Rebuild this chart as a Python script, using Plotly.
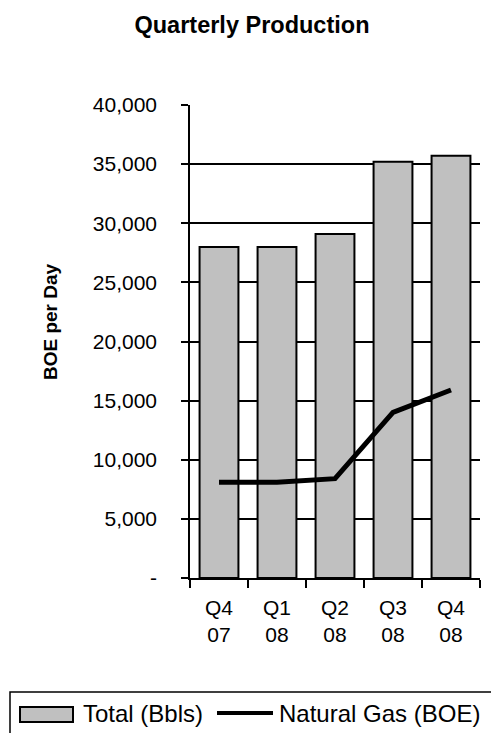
import plotly.graph_objects as go

# Quarterly production data (barrels of oil equivalent per day)
quarters = ["Q4 07", "Q1 08", "Q2 08", "Q3 08", "Q4 08"]
quarter_labels = ["Q4<br>07", "Q1<br>08", "Q2<br>08", "Q3<br>08", "Q4<br>08"]
total_bbls = [28000, 28000, 29100, 35200, 35700]
natural_gas_boe = [8100, 8100, 8400, 14000, 15900]

y_ticks = [0, 5000, 10000, 15000, 20000, 25000, 30000, 35000, 40000]
y_tick_labels = ["-", "5,000", "10,000", "15,000", "20,000", "25,000", "30,000", "35,000", "40,000"]

series_names = ["Total (Bbls)", "Natural Gas (BOE)"]

FONT = "Liberation Sans, Arial, sans-serif"
BAR_FILL = "#c0c0c0"

W, H = 491, 733
L, R, T, B = 190, 11, 105, 155
plot_w = W - L - R
plot_h = H - T - B


def px_x(px):
    return (px - L) / plot_w


def px_y(py):
    return (H - B - py) / plot_h


fig = go.Figure()
fig.add_trace(go.Bar(
    x=quarters, y=total_bbls, name=series_names[0],
    marker=dict(color=BAR_FILL, line=dict(color="black", width=2)),
    showlegend=False,
))
fig.add_trace(go.Scatter(
    x=quarters, y=natural_gas_boe, name=series_names[1], mode="lines",
    line=dict(color="black", width=5),
    showlegend=False,
))

# Legend drawn as a boxed key below the chart
shapes = [
    dict(type="rect", xref="paper", yref="paper",
         x0=px_x(10), x1=px_x(500), y0=px_y(745), y1=px_y(692),
         line=dict(color="black", width=1.5), fillcolor="rgba(0,0,0,0)"),
    dict(type="rect", xref="paper", yref="paper",
         x0=px_x(20), x1=px_x(73), y0=px_y(722), y1=px_y(707),
         line=dict(color="black", width=2), fillcolor=BAR_FILL),
    dict(type="line", xref="paper", yref="paper",
         x0=px_x(217), x1=px_x(273), y0=px_y(713), y1=px_y(713),
         line=dict(color="black", width=4)),
]
annotations = [
    dict(text=series_names[0], xref="paper", yref="paper",
         x=px_x(81), y=px_y(713), xanchor="left", yanchor="middle",
         showarrow=False, font=dict(family=FONT, size=24, color="black")),
    dict(text=series_names[1], xref="paper", yref="paper",
         x=px_x(277), y=px_y(713), xanchor="left", yanchor="middle",
         showarrow=False, font=dict(family=FONT, size=24, color="black")),
    dict(text="<b>BOE per Day</b>", xref="paper", yref="paper",
         x=px_x(50), y=px_y(322), xanchor="center", yanchor="middle",
         textangle=-90, showarrow=False,
         font=dict(family=FONT, size=19, color="black")),
]

fig.update_layout(
    width=W, height=H,
    margin=dict(l=L, r=R, t=T, b=B, pad=0),
    paper_bgcolor="white", plot_bgcolor="white",
    font=dict(family=FONT, size=21, color="black"),
    title=dict(text="<b>Quarterly Production</b>", x=252 / W, xanchor="center",
               y=1 - 25 / H, yanchor="middle",
               font=dict(family=FONT, size=23.5, color="black")),
    bargap=0.33,
    shapes=shapes,
    annotations=annotations,
    xaxis=dict(
        type="category",
        tickmode="array", tickvals=quarters, ticktext=quarter_labels,
        tickson="boundaries", ticks="outside", ticklen=8, tickwidth=1.5,
        tickcolor="black", showline=True, linecolor="black", linewidth=1.5,
        showgrid=False, ticklabelstandoff=10,
        tickfont=dict(family=FONT, size=21, color="black"),
    ),
    yaxis=dict(
        range=[0, 40000], tickmode="array", tickvals=y_ticks, ticktext=y_tick_labels,
        ticks="outside", ticklen=7, tickwidth=1.5, tickcolor="black",
        showline=True, linecolor="black", linewidth=1.5,
        showgrid=True, gridcolor="black", gridwidth=1.5, zeroline=False,
        ticklabelstandoff=20,
        tickfont=dict(family=FONT, size=21, color="black"),
    ),
)

fig.write_html("out.html")
